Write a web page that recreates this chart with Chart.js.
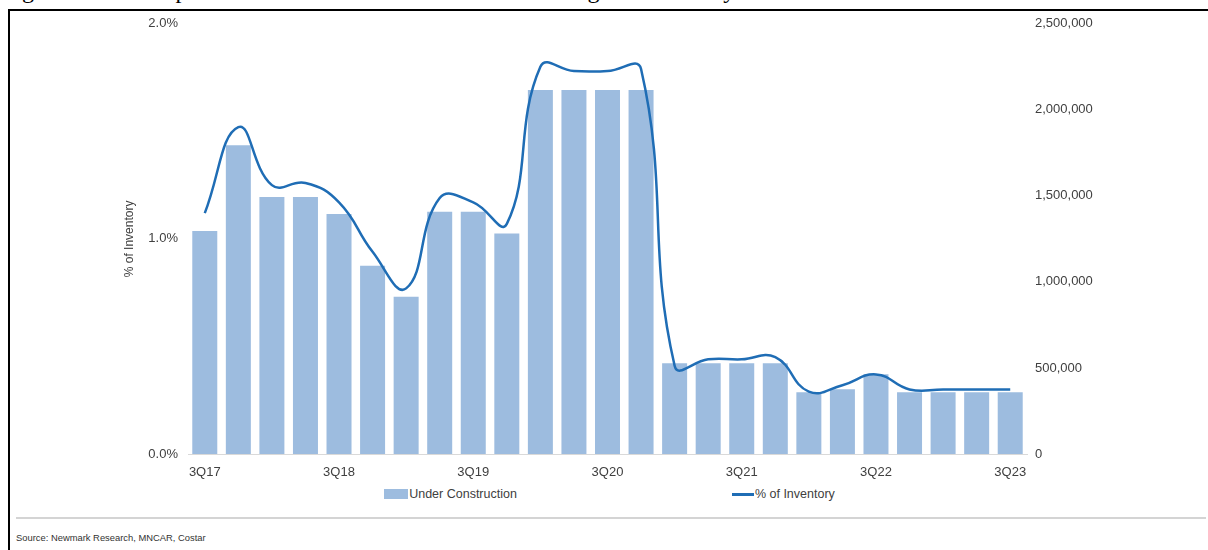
<!DOCTYPE html>
<html>
<head>
<meta charset="utf-8">
<script src="https://cdn.jsdelivr.net/npm/chart.js@4.4.1/dist/chart.umd.min.js"></script>
<style>
  body { margin: 0; background: #fff; font-family: "Liberation Sans", Arial, sans-serif; }
  #page { position: relative; width: 1208px; height: 550px; overflow: hidden; }
  #caption { position: absolute; left: 0; top: 0; width: 1208px; height: 8px; overflow: hidden; }
  #caption span { position: absolute; left: 2px; top: -23px; font-family: "Liberation Serif", serif; font-size: 24px; white-space: nowrap; }
  #frame { position: absolute; left: 8px; top: 9px; width: 1200px; height: 545px; border-left: 2px solid #000; border-top: 2px solid #000; }
  #chart-box { position: absolute; left: 10px; top: 6px; width: 1198px; height: 474px; }
  #legend { position: absolute; left: 190px; top: 487px; width: 839px; display: flex; justify-content: center; gap: 215px; font-size: 12.5px; color: #404040; }
  .item { display: flex; align-items: center; }
  .swatch { display: inline-block; margin-right: 1px; }
  #rule { position: absolute; left: 16px; top: 517px; width: 1190px; height: 0; border-top: 2px solid #d4d4d4; }
  #source { position: absolute; left: 16px; top: 532px; font-size: 9.4px; color: #333; }
</style>
</head>
<body>
<div id="page">
  <div id="caption"><span>Figure 3: Office Space Under Construction and as a Percentage of Inventory</span></div>
  <div id="frame"></div>
  <div id="chart-box"><canvas id="uc-chart"></canvas></div>
  <div id="legend"></div>
  <div id="rule"></div>
  <div id="source">Source: Newmark Research, MNCAR, Costar</div>
</div>
<script>
// quarters 3Q17 .. 3Q23
const quarters = [
  '3Q17', '4Q17', '1Q18', '2Q18', '3Q18', '4Q18', '1Q19', '2Q19', '3Q19', '4Q19',
  '1Q20', '2Q20', '3Q20', '4Q20', '1Q21', '2Q21', '3Q21', '4Q21',
  '1Q22', '2Q22', '3Q22', '4Q22', '1Q23', '2Q23', '3Q23'
];

// square feet under construction (right axis)
const underConstruction = [
  1296000, 1794000, 1493000, 1493000, 1395000, 1094000, 914000, 1408000, 1408000, 1281000,
  2116000, 2116000, 2116000, 2116000, 527000, 527000, 527000, 527000,
  359000, 376000, 463000, 359000, 359000, 359000, 359000
];

// under construction as % of inventory (left axis)
const pctInventory = [
  1.12, 1.52, 1.25, 1.26, 1.17, 0.94, 0.77, 1.19, 1.17, 1.07,
  1.80, 1.78, 1.78, 1.79, 0.41, 0.44, 0.44, 0.45,
  0.29, 0.32, 0.37, 0.30, 0.30, 0.30, 0.30
];

const pctTicks = [0, 1, 2];
const sfTicks = [0, 500000, 1000000, 1500000, 2000000, 2500000];

const barColor = '#9dbcdf';
const lineColor = '#1f6db5';
const tickColor = '#404040';
const tickFont = { family: 'Liberation Sans', size: 13 };

/*
*   Simple html legend, Excel spreads the two entries far apart
*/
function buildLegend() {
  const legend = document.getElementById('legend');
  legend.innerHTML = `
    <div class="item"><span class="swatch" style="width:24px;height:10px;background:${barColor}"></span><span>Under Construction</span></div>
    <div class="item"><span class="swatch" style="width:22px;height:3px;background:${lineColor}"></span><span>% of Inventory</span></div>
  `;
}

const ctx = document.getElementById('uc-chart').getContext('2d');

new Chart(ctx, {
  type: 'bar',
  data: {
    labels: quarters,
    datasets: [
      {
        type: 'line',
        label: '% of Inventory',
        data: pctInventory,
        yAxisID: 'y',
        borderColor: lineColor,
        borderWidth: 2.5,
        tension: 0.45,
        pointRadius: 0,
        fill: false,
        order: 0
      },
      {
        type: 'bar',
        label: 'Under Construction',
        data: underConstruction,
        yAxisID: 'y1',
        backgroundColor: barColor,
        barPercentage: 0.745,
        categoryPercentage: 1,
        order: 1
      }
    ]
  },
  options: {
    responsive: true,
    maintainAspectRatio: false,
    animation: false,
    layout: { padding: { left: 108, right: 81, top: 0, bottom: 0 } },
    plugins: {
      legend: { display: false },
      tooltip: { enabled: false }
    },
    scales: {
      x: {
        offset: true,
        grid: { display: false, drawTicks: false },
        border: { display: true, color: '#d9d9d9', width: 1 },
        ticks: {
          autoSkip: false,
          maxRotation: 0,
          padding: 11,
          color: tickColor,
          font: tickFont,
          callback: (v, i) => (i % 4 === 0 ? quarters[i] : '')
        },
        afterFit: (scale) => { scale.height = 26; }
      },
      y: {
        position: 'left',
        min: 0,
        max: 2,
        grid: { display: false, drawTicks: false },
        border: { display: false },
        afterBuildTicks: (scale) => { scale.ticks = pctTicks.map(v => ({ value: v })); },
        ticks: {
          padding: 10,
          color: tickColor,
          font: tickFont,
          callback: (v) => Number(v).toFixed(1) + '%'
        },
        title: {
          display: true,
          text: '% of Inventory',
          color: tickColor,
          font: { family: 'Liberation Sans', size: 12 },
          padding: { top: 4, bottom: 4 }
        },
        afterFit: (scale) => { scale.width = 70; }
      },
      y1: {
        position: 'right',
        min: 0,
        max: 2500000,
        grid: { display: false, drawTicks: false },
        border: { display: false },
        afterBuildTicks: (scale) => { scale.ticks = sfTicks.map(v => ({ value: v })); },
        ticks: {
          padding: 8,
          color: tickColor,
          font: tickFont,
          callback: (v) => Number(v).toLocaleString('en-US')
        },
        afterFit: (scale) => { scale.width = 100; }
      }
    }
  }
});

buildLegend();
</script>
</body>
</html>
